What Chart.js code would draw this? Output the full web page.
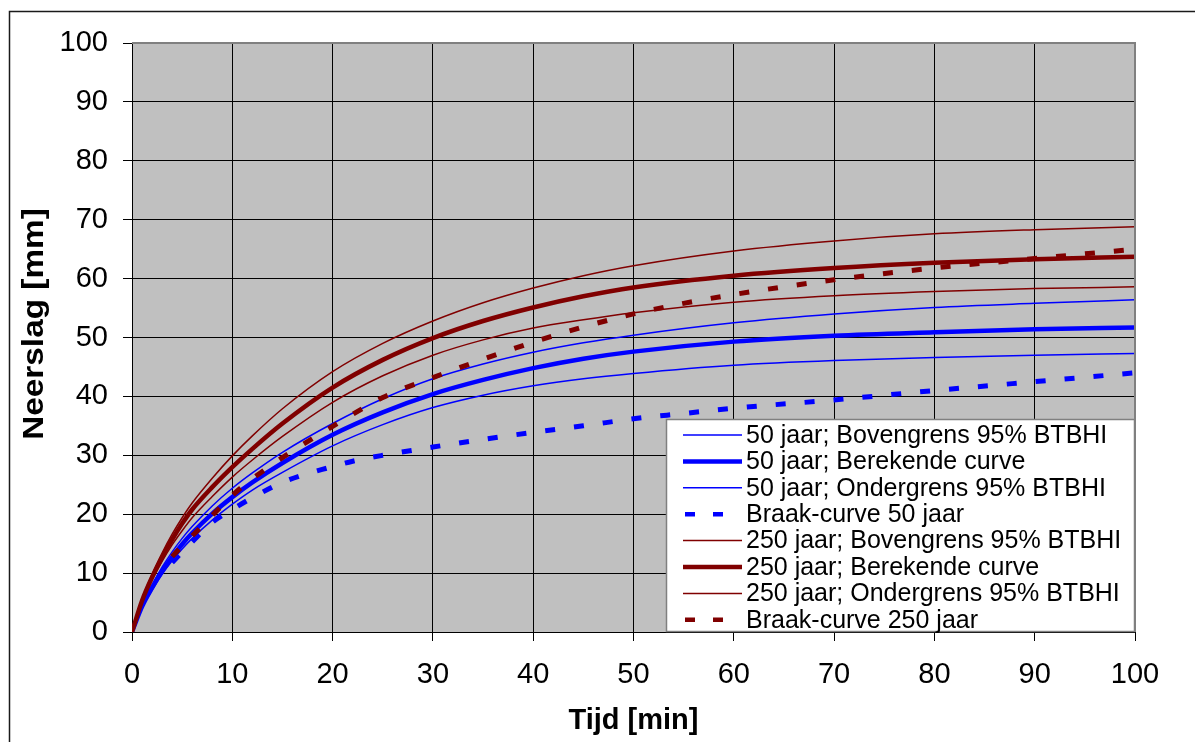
<!DOCTYPE html>
<html><head><meta charset="utf-8">
<script src="https://cdn.jsdelivr.net/npm/chart.js@4.4.1/dist/chart.umd.min.js"></script>
<style>html,body{margin:0;padding:0;background:#fff;}#wrap{width:1195px;height:742px;position:relative;}</style>
</head><body><div id="wrap"><canvas id="c" width="1195" height="742"></canvas></div>
<script>
// ---- data ----
const timeMin = [0,1,2,3,4,5,6,8,10,12,15,20,25,30,35,40,45,50,60,70,80,90,100];
const upper50 = [0,4.6,8.0,11.0,13.6,15.9,17.9,21.4,24.4,27.0,30.5,35.4,39.6,43.0,45.5,47.5,49.1,50.4,52.5,54.0,55.1,55.8,56.4];
const calc50  = [0,4.3,7.5,10.3,12.7,14.9,16.8,20.1,22.9,25.4,28.7,33.5,37.3,40.4,42.8,44.8,46.4,47.6,49.3,50.3,50.9,51.4,51.7];
const lower50 = [0,4.1,7.1,9.8,12.1,14.1,15.9,19.0,21.7,24.1,27.1,31.6,35.2,38.1,40.2,41.8,43.0,43.9,45.3,46.1,46.6,47.0,47.3];
const upper250 = [0,5.6,9.8,13.4,16.6,19.4,21.9,26.1,29.9,33.3,37.9,44.2,49.0,52.8,55.9,58.4,60.5,62.2,64.7,66.4,67.6,68.3,68.8];
const calc250  = [0,5.3,9.3,12.7,15.7,18.4,20.8,24.6,28.0,31.1,35.4,41.5,46.2,49.9,52.8,55.1,57.0,58.5,60.5,61.8,62.7,63.3,63.7];
const lower250 = [0,5.0,8.8,12.0,14.8,17.2,19.4,23.0,26.3,29.2,33.2,39.0,43.5,47.0,49.6,51.6,53.0,54.2,56.0,57.1,57.8,58.3,58.6];
const braakTime50 = [4,5,6,8,10,12,15,20,22,25,30,35,40,45,50,55,60,70,80,90,100];
const braak50     = [11.8,13.6,15.3,18.6,20.8,22.8,25.4,28.1,29.0,30.0,31.4,32.7,33.9,35.0,36.2,37.1,38.0,39.4,41.0,42.5,44.0];
const braakTime250 = [4,5,6,8,10,12,15,20,25,30,35,40,45,50,55,60,70,80,90,100];
const braak250     = [12.8,14.6,16.3,19.8,23.2,26.0,29.6,34.9,39.8,43.2,46.3,49.2,51.8,54.0,55.8,57.3,59.8,61.8,63.4,65.0];
const seriesLabels = [
  '50 jaar; Bovengrens 95% BTBHI',
  '50 jaar; Berekende curve',
  '50 jaar; Ondergrens 95% BTBHI',
  'Braak-curve 50 jaar',
  '250 jaar; Bovengrens 95% BTBHI',
  '250 jaar; Berekende curve',
  '250 jaar; Ondergrens 95% BTBHI',
  'Braak-curve 250 jaar'
];
const xTitle = 'Tijd [min]';
const yTitle = 'Neerslag [mm]';

// ---- styles ----
const FONT = "'Liberation Sans', Arial, sans-serif";
const BLUE = '#0000FF', RED = '#800000';
const styles = [
  {color: BLUE, width: 1.5, dash: []},
  {color: BLUE, width: 4.5, dash: []},
  {color: BLUE, width: 1.5, dash: []},
  {color: BLUE, width: 5, dash: [10, 19]},
  {color: RED, width: 1.5, dash: []},
  {color: RED, width: 4.5, dash: []},
  {color: RED, width: 1.5, dash: []},
  {color: RED, width: 5, dash: [10, 19]}
];
const legendStyles = [
  {width: 1.5, dash: []},{width: 4.5, dash: []},{width: 1.5, dash: []},{width: 4.5, dash: [10, 18]},
  {width: 1.5, dash: []},{width: 4.5, dash: []},{width: 1.5, dash: []},{width: 4.5, dash: [10, 18]}
];

function pts(ts, vs) { return ts.map((t, i) => ({x: t, y: vs[i]})); }
const seriesData = [
  pts(timeMin, upper50), pts(timeMin, calc50), pts(timeMin, lower50), pts(braakTime50, braak50),
  pts(timeMin, upper250), pts(timeMin, calc250), pts(timeMin, lower250), pts(braakTime250, braak250)
];

const datasets = seriesData.map((d, i) => ({
  label: seriesLabels[i],
  data: d,
  borderColor: styles[i].color,
  backgroundColor: styles[i].color,
  borderWidth: styles[i].width,
  borderDash: styles[i].dash,
  borderCapStyle: 'butt',
  pointRadius: 0,
  fill: false,
  cubicInterpolationMode: 'monotone',
  order: -i
}));

const bgPlugin = {
  id: 'bg',
  beforeDraw(chart) {
    const {ctx, chartArea: a} = chart;
    ctx.save();
    ctx.fillStyle = '#fff';
    ctx.fillRect(0, 0, chart.width, chart.height);
    ctx.fillStyle = '#C0C0C0';
    ctx.fillRect(a.left, a.top, a.right - a.left, a.bottom - a.top);
    ctx.strokeStyle = '#1a1a1a';
    ctx.lineWidth = 1.5;
    ctx.beginPath();
    ctx.moveTo(9.5, chart.height + 5);
    ctx.lineTo(9.5, 11.5);
    ctx.lineTo(chart.width + 5, 11.5);
    ctx.stroke();
    ctx.restore();
  },
  afterDatasetsDraw(chart) {
    const {ctx, chartArea: a} = chart;
    ctx.save();
    ctx.strokeStyle = '#808080';
    ctx.lineWidth = 2;
    ctx.beginPath();
    ctx.moveTo(a.left, a.top);
    ctx.lineTo(a.right, a.top);
    ctx.lineTo(a.right, a.bottom);
    ctx.stroke();
    ctx.restore();
  }
};

const yTitlePlugin = {
  id: 'yTitle',
  afterDraw(chart) {
    const {ctx} = chart;
    ctx.save();
    ctx.translate(35, 324);
    ctx.rotate(-Math.PI / 2);
    ctx.scale(1.15, 1);
    ctx.font = 'bold 29px ' + FONT;
    ctx.fillStyle = '#000';
    ctx.textAlign = 'center';
    ctx.textBaseline = 'middle';
    ctx.fillText(yTitle, 0, 0);
    ctx.restore();
  }
};

const legendPlugin = {
  id: 'boxLegend',
  afterDraw(chart) {
    const {ctx, chartArea: a} = chart;
    const w = 469, h = 213;
    const x0 = a.right - w, y0 = a.bottom - h;
    ctx.save();
    ctx.fillStyle = '#fff';
    ctx.fillRect(x0, y0, w, h);
    ctx.strokeStyle = '#808080';
    ctx.lineWidth = 1.5;
    ctx.strokeRect(x0 + 0.5, y0 + 0.5, w - 1, h - 1);
    ctx.font = '25px ' + FONT;
    ctx.textBaseline = 'middle';
    ctx.textAlign = 'left';
    chart.data.datasets.forEach((ds, i) => {
      const cy = y0 + 16 + i * 26.4;
      const ls = legendStyles[i];
      ctx.strokeStyle = ds.borderColor;
      ctx.lineWidth = ls.width;
      ctx.setLineDash(ls.dash);
      ctx.lineCap = 'butt';
      ctx.beginPath();
      if (ls.dash.length) { ctx.moveTo(x0 + 19, cy); ctx.lineTo(x0 + 60, cy); }
      else { ctx.moveTo(x0 + 17, cy); ctx.lineTo(x0 + 76, cy); }
      ctx.stroke();
      ctx.setLineDash([]);
      ctx.fillStyle = '#000';
      ctx.fillText(ds.label, x0 + 80, cy + 1);
    });
    ctx.restore();
  }
};

const gridColor = (c) => (c.tick && c.tick.value === 100) ? 'rgba(0,0,0,0)' : '#000';

new Chart(document.getElementById('c'), {
  type: 'line',
  data: {datasets},
  options: {
    responsive: false,
    animation: false,
    devicePixelRatio: 1,
    layout: {padding: {left: 0, top: 43, right: 60, bottom: 0}},
    plugins: {legend: {display: false}, tooltip: {enabled: false}},
    elements: {line: {tension: 0}},
    scales: {
      x: {
        type: 'linear', min: 0, max: 100,
        ticks: {stepSize: 10, color: '#000', font: {family: FONT, size: 29}, padding: 17, maxRotation: 0},
        grid: {color: gridColor, lineWidth: 1, tickLength: 9, tickColor: '#000', drawTicks: true},
        border: {display: true, color: '#000', width: 1},
        title: {display: true, text: xTitle, color: '#000', font: {family: FONT, size: 29, weight: 'bold'}, padding: {top: 0, bottom: 4}},
        afterFit(s) { s.height = 110; }
      },
      y: {
        type: 'linear', min: 0, max: 100,
        ticks: {stepSize: 10, color: '#000', font: {family: FONT, size: 29}, padding: 15},
        grid: {color: gridColor, lineWidth: 1, tickLength: 9, tickColor: '#000', drawTicks: true},
        border: {display: true, color: '#000', width: 1},
        title: {display: false, text: yTitle},
        afterFit(s) { s.width = 132; }
      }
    }
  },
  plugins: [bgPlugin, legendPlugin, yTitlePlugin]
});
</script>
</body></html>
